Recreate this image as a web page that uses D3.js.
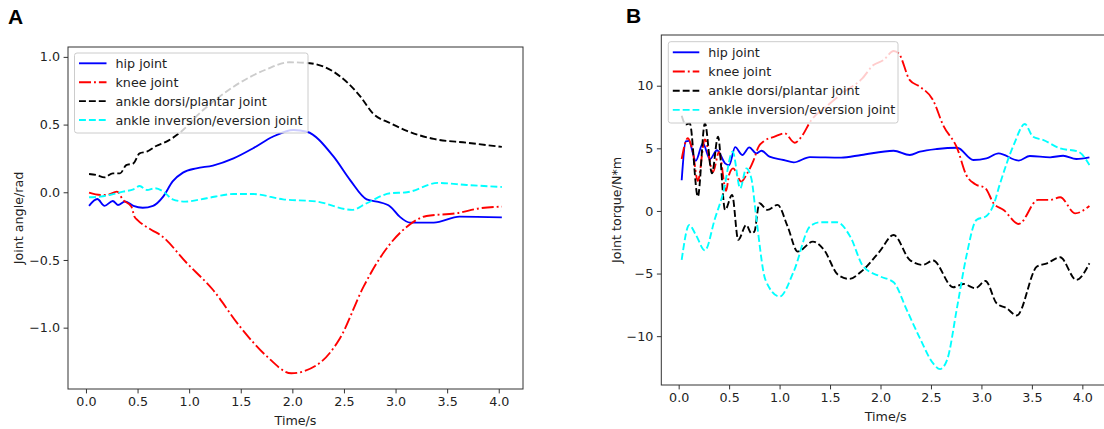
<!DOCTYPE html>
<html><head><meta charset="utf-8">
<script src="https://cdn.jsdelivr.net/npm/d3@7"></script>
<style>body{margin:0;background:#fff}svg{display:block}</style>
</head><body>
<svg id="chart" width="1104" height="429"></svg>
<script>
// ---------- DATA ----------
const seriesNames = ["hip joint", "knee joint", "ankle dorsi/plantar joint", "ankle inversion/eversion joint"];
const xTickValues = [0.0, 0.5, 1.0, 1.5, 2.0, 2.5, 3.0, 3.5, 4.0];
const yTicksAngle = [-1.0, -0.5, 0.0, 0.5, 1.0];
const yTicksTorque = [-10, -5, 0, 5, 10];

// Panel A: joint angle (rad)
const hipAngleT = [0.03,0.11,0.18,0.26,0.31,0.38,0.46,0.55,0.65,0.75,0.84,0.94,1.07,1.23,1.43,1.62,1.81,2.01,2.14,2.40,2.56,2.72,2.82,2.95,3.04,3.14,3.37,3.62,4.03];
const hipAngleV = [-0.10,-0.05,-0.10,-0.064,-0.094,-0.067,-0.10,-0.114,-0.10,-0.03,0.08,0.145,0.177,0.197,0.25,0.325,0.41,0.46,0.447,0.263,0.09,-0.052,-0.069,-0.106,-0.18,-0.224,-0.224,-0.18,-0.185];
const kneeAngleT = [0.03,0.14,0.20,0.30,0.36,0.44,0.47,0.50,0.64,0.72,0.98,1.23,1.49,1.75,1.99,2.24,2.46,2.69,2.88,3.11,3.30,3.59,3.82,4.03];
const kneeAngleV = [-0.003,-0.02,-0.02,0.005,-0.057,-0.106,-0.18,-0.205,-0.28,-0.315,-0.525,-0.72,-0.99,-1.21,-1.337,-1.275,-1.08,-0.697,-0.45,-0.254,-0.175,-0.155,-0.118,-0.106];
const dorsiAngleT = [0.03,0.10,0.18,0.26,0.33,0.39,0.46,0.52,0.59,0.68,0.78,0.91,1.10,1.43,1.75,1.97,2.17,2.40,2.66,2.78,2.95,3.11,3.37,3.69,4.03];
const dorsiAngleV = [0.135,0.128,0.11,0.14,0.14,0.20,0.214,0.288,0.30,0.342,0.374,0.44,0.583,0.78,0.908,0.96,0.953,0.89,0.706,0.583,0.51,0.453,0.394,0.366,0.335];
const invAngleT = [0.03,0.14,0.23,0.36,0.46,0.52,0.59,0.67,0.75,0.84,0.96,1.17,1.43,1.62,1.91,2.24,2.58,2.72,2.95,3.11,3.41,3.69,4.03];
const invAngleV = [-0.037,-0.032,-0.02,0.005,0.022,0.046,0.017,0.03,0.005,-0.052,-0.069,-0.044,-0.013,-0.013,-0.052,-0.069,-0.13,-0.081,-0.007,0.0,0.069,0.054,0.039];

// Panel B: joint torque (N*m)
const hipTorqueT = [0.03,0.07,0.10,0.17,0.24,0.31,0.38,0.46,0.50,0.56,0.63,0.70,0.77,0.82,0.90,1.04,1.14,1.30,1.61,1.81,2.13,2.29,2.39,2.56,2.76,2.92,3.05,3.17,3.37,3.48,3.68,3.81,3.94,4.07];
const hipTorqueV = [2.45,5.55,5.6,4.0,5.4,4.15,4.85,3.8,3.65,5.1,4.47,5.08,4.6,4.81,4.33,4.07,3.88,4.3,4.26,4.47,4.81,4.47,4.73,4.95,5.05,4.07,4.2,4.6,4.02,4.39,4.28,4.41,4.15,4.28];
const kneeTorqueT = [0.03,0.09,0.14,0.19,0.26,0.34,0.40,0.47,0.50,0.54,0.62,0.67,0.74,0.79,0.85,0.95,1.05,1.15,1.21,1.31,1.48,1.64,1.81,1.93,2.03,2.13,2.18,2.29,2.39,2.52,2.62,2.76,2.85,2.94,3.04,3.12,3.22,3.37,3.56,3.68,3.78,3.93,4.07];
const kneeTorqueV = [4.15,5.8,4.73,2.4,5.7,3.1,4.7,1.6,2.9,3.4,2.34,2.87,4.0,5.1,5.6,5.93,6.2,5.45,5.85,7.2,8.46,9.52,10.5,11.65,12.05,12.77,12.58,10.45,9.92,8.86,6.86,5.0,2.87,2.13,1.81,0.61,0.08,-1.04,0.88,0.88,1.09,-0.19,0.4];
const dorsiTorqueT = [0.03,0.07,0.11,0.19,0.26,0.33,0.39,0.46,0.53,0.59,0.67,0.72,0.75,0.80,0.88,0.98,1.08,1.18,1.33,1.44,1.58,1.69,1.81,1.99,2.13,2.29,2.42,2.52,2.72,2.82,2.94,3.04,3.15,3.25,3.35,3.55,3.65,3.78,3.94,4.07];
const dorsiTorqueV = [7.6,6.9,7.0,1.14,7.0,3.0,5.93,0.08,1.28,-2.31,-1.12,-1.78,-1.65,0.61,0.08,0.48,-1.25,-3.25,-2.45,-3.11,-5.11,-5.43,-4.84,-3.25,-1.92,-3.91,-4.31,-3.96,-6.09,-5.83,-6.17,-5.59,-7.37,-7.77,-8.35,-4.44,-4.18,-3.7,-5.51,-4.18];
const invTorqueT = [0.03,0.105,0.17,0.26,0.36,0.44,0.535,0.61,0.67,0.72,0.77,0.86,1.00,1.14,1.30,1.40,1.57,1.70,1.83,2.00,2.13,2.26,2.39,2.52,2.59,2.66,2.76,2.85,2.95,3.05,3.12,3.18,3.32,3.43,3.51,3.61,3.78,3.96,4.07];
const invTorqueV = [-3.91,-1.12,-1.9,-3.15,-0.6,1.41,4.73,1.81,3.4,2.6,-0.6,-5.51,-6.84,-4.84,-1.25,-0.9,-0.9,-2.05,-4.44,-5.24,-5.7,-7.9,-10.16,-12.16,-12.63,-11.89,-7.64,-3.65,-0.72,-0.4,0.48,2.07,5.27,6.94,5.93,5.67,5.0,4.73,3.67];

// ---------- STYLE ----------
const colors = ["#0000ff", "#ff0000", "#000000", "#00ffff"];
const dashes = [null, "12,3,1.9,3", "6.9,3", "6.9,3"];
const FONT = "'DejaVu Sans', sans-serif";
const FS = 12.7;

const svg = d3.select("#chart");

function panel(cfg) {
  const g = svg.append("g");
  const x = d3.scaleLinear().domain(cfg.xDomain).range([cfg.left, cfg.left + cfg.width]);
  const y = d3.scaleLinear().domain(cfg.yDomain).range([cfg.top + cfg.height, cfg.top]);
  const fmtMinus = f => v => f(v).replace("-", "\u2212");

  // lines
  const line = d3.line().x(d => x(d[0])).y(d => y(d[1])).curve(d3.curveMonotoneX);
  cfg.series.forEach((s, i) => {
    const pts = s.t.map((t, k) => [t, s.v[k]]);
    g.append("path").attr("d", line(pts)).attr("fill", "none")
      .attr("stroke", colors[i]).attr("stroke-width", 1.875)
      .attr("stroke-dasharray", dashes[i]).attr("stroke-linejoin", "round");
  });

  // spines
  g.append("rect").attr("x", cfg.left).attr("y", cfg.top).attr("width", cfg.width).attr("height", cfg.height)
    .attr("fill", "none").attr("stroke", "#333").attr("stroke-width", 1);

  // axes
  const xa = g.append("g").attr("transform", `translate(0,${cfg.top + cfg.height})`)
    .call(d3.axisBottom(x).tickValues(xTickValues).tickFormat(d3.format(".1f")).tickSize(4.4).tickPadding(3.6).tickSizeOuter(0));
  const ya = g.append("g").attr("transform", `translate(${cfg.left},0)`)
    .call(d3.axisLeft(y).tickValues(cfg.yTicks).tickFormat(fmtMinus(d3.format(cfg.yFmt))).tickSize(4.4).tickPadding(3.6).tickSizeOuter(0));
  [xa, ya].forEach(a => {
    a.select(".domain").remove();
    a.selectAll("line").attr("stroke", "#333");
    a.selectAll("text").attr("fill", "#222").style("font-family", FONT).style("font-size", FS + "px");
  });

  // axis labels
  g.append("text").attr("x", cfg.left + cfg.width / 2).attr("y", cfg.xLabelY)
    .attr("text-anchor", "middle").attr("fill", "#222").style("font-family", FONT).style("font-size", FS + "px")
    .text("Time/s");
  g.append("text").attr("transform", `translate(${cfg.yLabelX},${cfg.top + cfg.height / 2}) rotate(-90)`)
    .attr("text-anchor", "middle").attr("dominant-baseline", "central").attr("fill", "#222")
    .style("font-family", FONT).style("font-size", FS + "px").text(cfg.yLabel);

  // panel letter
  g.append("text").attr("x", cfg.letterX).attr("y", cfg.letterY).attr("fill", "#000")
    .style("font-family", "'Liberation Sans', Arial, sans-serif").style("font-weight", "bold").style("font-size", "21px")
    .text(cfg.letter);

  // legend
  const L = cfg.legend;
  const lg = g.append("g");
  lg.append("rect").attr("x", L.x).attr("y", L.y).attr("width", L.w).attr("height", L.h)
    .attr("rx", 2.5).attr("ry", 2.5).attr("fill", "#fff").attr("fill-opacity", 0.8)
    .attr("stroke", "#cccccc").attr("stroke-width", 1);
  seriesNames.forEach((name, i) => {
    const yy = L.y + L.firstRow + i * L.rowStep;
    lg.append("line").attr("x1", L.x + 4.5).attr("x2", L.x + 4.5 + L.handle).attr("y1", yy).attr("y2", yy)
      .attr("stroke", colors[i]).attr("stroke-width", 1.875).attr("stroke-dasharray", dashes[i]);
    lg.append("text").attr("x", L.x + 4.5 + L.handle + 9).attr("y", yy).attr("dominant-baseline", "central")
      .attr("fill", "#222").style("font-family", FONT).style("font-size", FS + "px").text(name);
  });
}

panel({
  left: 68, top: 47, width: 455, height: 342,
  xDomain: [-0.174, 4.235], yDomain: [-1.453, 1.073],
  yTicks: yTicksAngle, yFmt: ".1f",
  xLabelY: 425, yLabelX: 18, yLabel: "Joint angle/rad",
  letter: "A", letterX: 8, letterY: 24,
  legend: { x: 74.5, y: 53, w: 233.5, h: 80, firstRow: 10.3, rowStep: 18.9, handle: 27.5 },
  series: [
    { t: hipAngleT, v: hipAngleV },
    { t: kneeAngleT, v: kneeAngleV },
    { t: dorsiAngleT, v: dorsiAngleV },
    { t: invAngleT, v: invAngleV }
  ]
});

panel({
  left: 661.3, top: 35, width: 448.7, height: 350,
  xDomain: [-0.172, 4.274], yDomain: [-13.9, 14.05],
  yTicks: yTicksTorque, yFmt: "d",
  xLabelY: 421, yLabelX: 616, yLabel: "Joint torque/N*m",
  letter: "B", letterX: 626, letterY: 23,
  legend: { x: 668.3, y: 41.7, w: 229.7, h: 81.3, firstRow: 10.6, rowStep: 19.2, handle: 26.5 },
  series: [
    { t: hipTorqueT, v: hipTorqueV },
    { t: kneeTorqueT, v: kneeTorqueV },
    { t: dorsiTorqueT, v: dorsiTorqueV },
    { t: invTorqueT, v: invTorqueV }
  ]
});
</script>
</body></html>
